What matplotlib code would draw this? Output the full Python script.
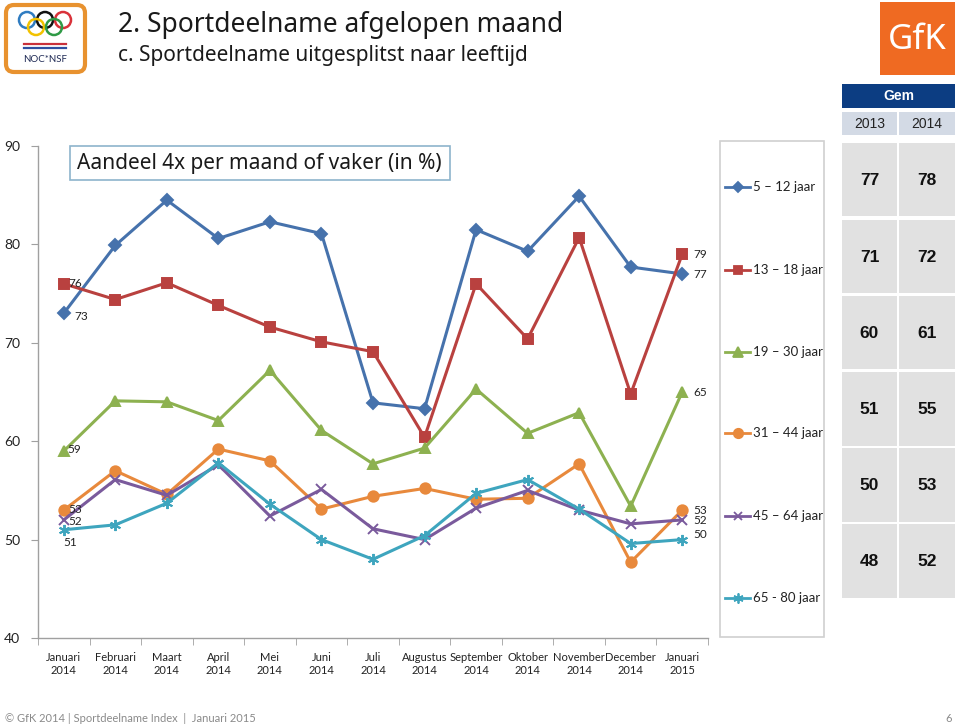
import numpy as np
import matplotlib
matplotlib.use('Agg')
import matplotlib.pyplot as plt
from matplotlib.patches import Rectangle, FancyBboxPatch, Circle

# --- data ------------------------------------------------------------------
months = ['Januari\n2014', 'Februari\n2014', 'Maart\n2014', 'April\n2014',
          'Mei\n2014', 'Juni\n2014', 'Juli\n2014', 'Augustus\n2014',
          'September\n2014', 'Oktober\n2014', 'November\n2014',
          'December\n2014', 'Januari\n2015']
series_labels = ['5 – 12 jaar', '13 – 18 jaar', '19 – 30 jaar',
                 '31 – 44 jaar', '45 – 64 jaar', '65 - 80 jaar']

age_5_12 = [73, 79.9, 84.5, 80.6, 82.3, 81.1, 63.9, 63.3, 81.5, 79.3, 84.9, 77.7, 77]
age_13_18 = [76, 74.4, 76.1, 73.8, 71.6, 70.1, 69.1, 60.4, 76.0, 70.4, 80.7, 64.8, 79]
age_19_30 = [59, 64.1, 64.0, 62.1, 67.2, 61.1, 57.7, 59.3, 65.3, 60.8, 62.9, 53.4, 65]
age_31_44 = [53, 57.0, 54.6, 59.2, 58.0, 53.1, 54.4, 55.2, 54.1, 54.2, 57.7, 47.7, 53]
age_45_64 = [52, 56.1, 54.5, 57.6, 52.4, 55.1, 51.1, 50.0, 53.2, 55.0, 53.0, 51.6, 52]
age_65_80 = [51, 51.5, 53.7, 57.8, 53.6, 50.0, 48.0, 50.4, 54.7, 56.1, 53.1, 49.6, 50]

gem_years = ['2013', '2014']
gem_2013 = [77, 71, 60, 51, 50, 48]
gem_2014 = [78, 72, 61, 55, 53, 52]

series = [age_5_12, age_13_18, age_19_30, age_31_44, age_45_64, age_65_80]

# --- styles ----------------------------------------------------------------
colors = ['#4672AC', '#B9413F', '#8DB150', '#E8893C', '#7A5A9C', '#3EA5BE']
markers = ['D', 's', '^', 'o', 'x', (6, 2, 0)]
msizes = [6, 7, 7.5, 7.5, 7, 8]
# pixel offsets of the first / last value labels
first_off = [(11, -3), (5, 0), (4, 2), (5, 1), (5, -2), (0, -13)]
last_off = [(11, -1), (11, 0), (11, 0), (11, 0), (11, -1), (11, 5)]

small = ['Lato', 'DejaVu Sans']
W, H = 960, 728

fig = plt.figure(figsize=(9.6, 7.28), dpi=100)

# overlay in pixel coordinates for the slide furniture
ov = fig.add_axes([0, 0, 1, 1], zorder=0)
ov.set_xlim(0, W)
ov.set_ylim(H, 0)
ov.axis('off')

# titles
ov.text(118, 25, '2. Sportdeelname afgelopen maand', fontsize=19,
        family='Noto Sans', color='#1a1a1a', va='center', ha='left')
ov.text(118, 55, 'c. Sportdeelname uitgesplitst naar leeftijd', fontsize=15,
        family='Noto Sans', color='#1a1a1a', va='center', ha='left')

# NOC*NSF logo
ov.add_patch(FancyBboxPatch((6, 5), 79, 67, boxstyle='round,pad=0,rounding_size=8',
                            fc='white', ec='#E8922F', lw=3))
for cx, cy, c in [(27, 20, '#2F7CC1'), (45, 20, '#111111'), (63, 20, '#D9323A'),
                  (36, 27, '#F2C200'), (54, 27, '#2F9A46')]:
    ov.add_patch(Circle((cx, cy), 8, fill=False, ec=c, lw=1.8))
ov.plot([24, 66], [44, 44], color='#C8303A', lw=1.6)
ov.plot([24, 66], [48, 48], color='#2D4FA0', lw=1.6)
ov.text(45, 59, 'NOC*NSF', fontsize=7, ha='center', va='center',
        color='#1f2a55', family=small)

# GfK logo
ov.add_patch(Rectangle((880, 2), 75, 73, fc='#EF6A22', ec='none'))
ov.text(917, 40, 'GfK', fontsize=25, color='white', ha='center', va='center',
        family='Noto Sans')

# box with chart subtitle
ov.add_patch(Rectangle((70, 146), 380, 34, fc='white', ec='#8DB4CC', lw=1.2))
ov.text(77, 163, 'Aandeel 4x per maand of vaker (in %)', fontsize=15,
        family='Noto Sans', color='#1a1a1a', va='center', ha='left')

# legend box
ov.add_patch(Rectangle((720, 141), 104, 496, fc='white', ec='#D0D0D0', lw=1.2))
leg_y = [187, 270, 352, 433, 516, 598]
for ly, lab, c, m, ms in zip(leg_y, series_labels, colors, markers, msizes):
    ov.plot([725, 750], [ly, ly], color=c, lw=2)
    ov.plot([737.5], [ly], marker=m, color=c, ms=ms * 0.9, mew=1.3)
    ov.text(753, ly, lab, fontsize=9.5, family=small, color='#222222',
            va='center', ha='left')

# Gem table
ov.add_patch(Rectangle((842, 84), 113, 24, fc='#0C3D82', ec='none'))
ov.text(898.5, 96, 'Gem', fontsize=10, color='white', fontweight='bold',
        ha='center', va='center', family='Liberation Sans')
col_x = [(842, 897), (899, 955)]
for (x0, x1), yr in zip(col_x, gem_years):
    ov.add_patch(Rectangle((x0, 112), x1 - x0, 23, fc='#D3DAE5', ec='none'))
    ov.text((x0 + x1) / 2, 124, yr, fontsize=10, color='#222222',
            ha='center', va='center', family='Liberation Sans')
row_y = [(143, 216), (220, 293), (296, 369), (372, 446), (448, 522), (524, 598)]
for (y0, y1), v13, v14 in zip(row_y, gem_2013, gem_2014):
    for (x0, x1), v in zip(col_x, (v13, v14)):
        ov.add_patch(Rectangle((x0, y0), x1 - x0, y1 - y0, fc='#E1E1E1', ec='none'))
        ov.text((x0 + x1) / 2, (y0 + y1) / 2 + 1, str(v), fontsize=12.5,
                fontweight='bold', color='#111111', ha='center', va='center',
                family='Liberation Sans')

# footer
ov.text(5, 718, '© GfK 2014 | Sportdeelname Index  |  Januari 2015', fontsize=8,
        color='#8a8a8a', va='center', ha='left', family=small)
ov.text(952, 718, '6', fontsize=8, color='#8a8a8a', va='center', ha='right',
        family=small)

# --- main chart --------------------------------------------------------------
ax = fig.add_axes([38 / W, 1 - 638 / H, (708 - 38) / W, (638 - 146) / H], zorder=1)
ax.set_facecolor('none')
x = np.arange(len(months))
for vals, c, m, ms, fo, lo in zip(series, colors, markers, msizes, first_off, last_off):
    ax.plot(x, vals, color=c, lw=2.2, marker=m, ms=ms, mec=c, mfc=c, mew=1.4,
            clip_on=False)
    ax.annotate(f'{vals[0]:.0f}', (x[0], vals[0]), xytext=fo,
                textcoords='offset pixels', fontsize=8.5, family=small,
                color='#222222', ha='left', va='center')
    ax.annotate(f'{vals[-1]:.0f}', (x[-1], vals[-1]), xytext=lo,
                textcoords='offset pixels', fontsize=8.5, family=small,
                color='#222222', ha='left', va='center')

ax.set_xlim(-0.5, len(months) - 0.5)
ax.set_ylim(40, 90)
ax.set_yticks([40, 50, 60, 70, 80, 90])
ax.set_xticks(x)
ax.set_xticklabels(months, fontsize=8, family=small, color='#222222')
ax.set_xticks(np.arange(-0.5, len(months)), minor=True)
ax.tick_params(axis='x', which='major', length=0, pad=10)
ax.tick_params(axis='x', which='minor', length=5, color='#A0A0A0', direction='out')
ax.tick_params(axis='y', length=5, color='#A0A0A0', labelsize=10,
               labelcolor='#222222', pad=8)
for lab in ax.get_yticklabels():
    lab.set_family(small)
for s in ('top', 'right'):
    ax.spines[s].set_visible(False)
for s in ('left', 'bottom'):
    ax.spines[s].set_color('#A0A0A0')
    ax.spines[s].set_linewidth(1)

fig.savefig('out.png', dpi=100)
